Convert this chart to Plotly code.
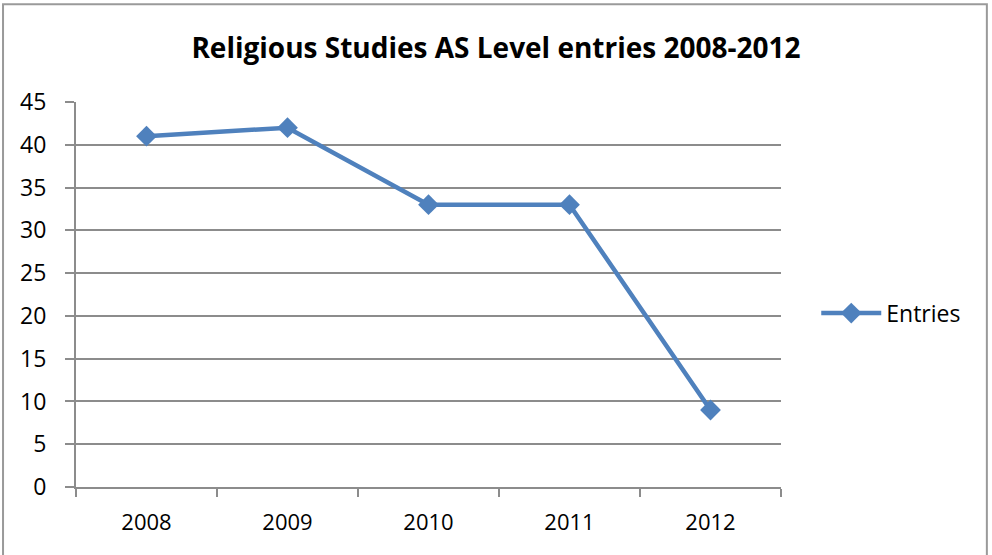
import plotly.graph_objects as go

years = ["2008", "2009", "2010", "2011", "2012"]
entries = [41, 42, 33, 33, 9]
y_ticks = [0, 5, 10, 15, 20, 25, 30, 35, 40, 45]

FONT = "Open Sans"
BLUE = "#4F81BD"
GRID = "#8c8c8c"

fig = go.Figure()
fig.add_trace(go.Scatter(
    x=years, y=entries, name="Entries", mode="lines+markers",
    line=dict(color=BLUE, width=4.5),
    marker=dict(symbol="diamond", size=16, color=BLUE),
))

fig.update_layout(
    width=992, height=555,
    margin=dict(l=76, r=211, t=102, b=68),
    paper_bgcolor="white", plot_bgcolor="white",
    title=dict(text="<b>Religious Studies AS Level entries 2008-2012</b>",
               x=0.5, xref="container", xanchor="center",
               y=1 - 48 / 555, yref="container", yanchor="middle",
               font=dict(family=FONT, size=28, color="black")),
    font=dict(family=FONT, color="black"),
    showlegend=True,
    legend=dict(x=1.05, xanchor="left", y=0.4516, yanchor="middle",
                font=dict(family=FONT, size=23, color="black"),
                itemwidth=60, bgcolor="rgba(0,0,0,0)"),
    xaxis=dict(type="category", range=[-0.5, 4.5], showgrid=False,
               showline=True, linecolor=GRID, linewidth=2,
               ticks="outside", tickson="boundaries", ticklen=8,
               tickcolor=GRID, tickwidth=2, ticklabelstandoff=15,
               tickfont=dict(family=FONT, size=22, color="black")),
    yaxis=dict(range=[0, 45], tickvals=y_ticks, showgrid=True,
               gridcolor=GRID, gridwidth=2, zeroline=False,
               showline=True, linecolor=GRID, linewidth=2,
               ticks="outside", ticklen=9, tickcolor=GRID, tickwidth=2,
               ticklabelstandoff=14,
               tickfont=dict(family=FONT, size=23, color="black")),
    shapes=[dict(type="rect", xref="paper", yref="paper",
                 x0=-0.1035, x1=1.292, y0=-0.3, y1=1.2536,
                 line=dict(color="#9a9a9a", width=2), layer="below")],
)

fig.write_html("out.html", config={"displayModeBar": False},
               post_script="document.body.style.margin='0';")
